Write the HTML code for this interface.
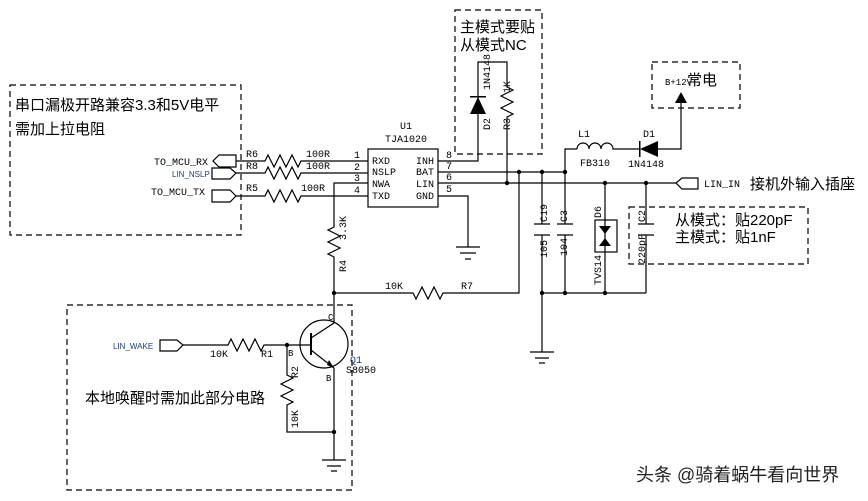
<!DOCTYPE html>
<html><head><meta charset="utf-8"><style>
body{margin:0;background:#fff}
svg{display:block}
text{font-family:"Liberation Mono","Noto Sans CJK SC",monospace;font-size:10px;fill:#000}
.cn{font-family:"Liberation Sans","Noto Sans CJK SC",sans-serif;font-size:15px}
.bl{font-family:"Liberation Sans",sans-serif;font-size:8px;fill:#1a3a8a}
</style></head><body>
<svg width="868" height="501" viewBox="0 0 868 501" xmlns="http://www.w3.org/2000/svg">
<g fill="none" stroke="#000" stroke-width="1.2">
<!-- dashed boxes -->
<g stroke-dasharray="6,4">
<rect x="10" y="85" width="231" height="150"/>
<rect x="455" y="10" width="87" height="144"/>
<rect x="652" y="62" width="88" height="46"/>
<rect x="629" y="207" width="179" height="57"/>
<rect x="67" y="305" width="285" height="185"/>
</g>
<!-- ports -->
<path d="M236 155 H219 L213 161 L219 167 H236 Z"/>
<path d="M212 168 H230 L236 173 L230 179 H212 Z"/>
<path d="M212 190 H230 L236 196 L230 202 H212 Z"/>
<path d="M698 178 H682 L676 183 L682 189 H698 Z"/>
<path d="M160 340 H177 L183 345 L177 351 H160 Z"/>
<!-- left wires + resistors -->
<path d="M236 161 H265 l3 -6 l6 12 l6 -12 l6 12 l6 -12 l6 12 l3 -6 H368"/>
<path d="M236 173 H265 l3 -6 l6 12 l6 -12 l6 12 l6 -12 l6 12 l3 -6 H368"/>
<path d="M236 196 H265 l3 -6 l6 12 l6 -12 l6 12 l6 -12 l6 12 l3 -6 H368"/>
<path d="M368 183 H334 V227 l-6 3 l12 6 l-12 6 l12 6 l-12 6 l6 3 V293 H413 l3 6 l6 -12 l6 12 l6 -12 l6 12 l3 -6 H519 V172"/>
<!-- chip -->
<rect x="368" y="149" width="70" height="58"/>
<path d="M438 161 H478 V62 H507 V87 l6 3 l-12 6 l12 6 l-12 6 l12 6 l-6 3 V183"/>
<path d="M438 172 H565 V149 H577"/>
<path d="M577 149 a6 6 0 0 1 12 0 a6 6 0 0 1 12 0 a6 6 0 0 1 12 0 H640"/>
<path d="M658 149 H681 V100"/>
<path d="M438 183 H676"/>
<path d="M438 196 H468 V247"/>
<path d="M456 247 H480 M460 253 H476 M465 259 H471"/>
<!-- caps -->
<path d="M542 172 V224 M534 224 H550 M534 235 H550 M542 235 V352"/>
<path d="M565 172 V224 M557 224 H573 M557 235 H573 M565 235 V293"/>
<path d="M646 183 V224 M638 224 H654 M638 235 H654 M646 235 V293"/>
<path d="M605 183 V293"/>
<rect x="595" y="220" width="22" height="32"/>
<path d="M542 293 H646"/>
<path d="M530 352 H554 M535 358 H549 M539 363 H545"/>
<!-- transistor section -->
<path d="M183 345 H228 l3 -6 l6 12 l6 -12 l6 12 l6 -12 l6 12 l3 -6 H311"/>
<circle cx="324" cy="344" r="24"/>
<path d="M311 333 V355" stroke-width="2"/>
<path d="M311 338 L334 323 V293 M311 350 L334 368 V460 M287 345 V375 l6 3 l-12 6 l12 6 l-12 6 l12 6 l-6 3 V432 H334"/>
<path d="M322 460 H346 M327 466 H341 M331 471 H337"/>
</g>
<g fill="#000">
<polygon points="327,365 334,368 329,360"/>
<polygon points="470,114 486,114 478,97"/><rect x="470" y="96" width="16" height="1.5"/>
<polygon points="658,141 658,157 640,149"/><rect x="639" y="141" width="1.5" height="16"/>
<polygon points="675,103 687,103 681,92"/>
<polygon points="599,226 611,226 605,234"/><polygon points="599,246 611,246 605,238"/>
<circle cx="334" cy="293" r="2.2"/><circle cx="507" cy="183" r="2.2"/><circle cx="519" cy="172" r="2.2"/>
<circle cx="542" cy="172" r="2.2"/><circle cx="565" cy="172" r="2.2"/><circle cx="605" cy="183" r="2.2"/>
<circle cx="646" cy="183" r="2.2"/><circle cx="542" cy="293" r="2.2"/><circle cx="565" cy="293" r="2.2"/>
<circle cx="605" cy="293" r="2.2"/><circle cx="287" cy="345" r="2.2"/><circle cx="334" cy="432" r="2.2"/>
</g>
<!-- text -->
<text class="cn" x="15" y="110">串口漏极开路兼容3.3和5V电平</text>
<text class="cn" x="15" y="134">需加上拉电阻</text>
<text class="cn" x="460" y="32">主模式要贴</text>
<text class="cn" x="460" y="50">从模式NC</text>
<text class="cn" x="687" y="85">常电</text>
<text x="665" y="85" style="font-size:9px">B+12V</text>
<text class="cn" x="750" y="189">接机外输入插座</text>
<text class="cn" x="675" y="225">从模式：贴220pF</text>
<text class="cn" x="675" y="242">主模式：贴1nF</text>
<text class="cn" x="85" y="403">本地唤醒时需加此部分电路</text>
<text class="cn" x="636" y="481" style="font-size:18px;fill:#222">头条 @骑着蜗牛看向世界</text>
<text x="154" y="165">TO_MCU_RX</text>
<text class="bl" x="172" y="177">LIN_NSLP</text>
<text x="151" y="195">TO_MCU_TX</text>
<text class="bl" x="113" y="349">LIN_WAKE</text>
<text x="704" y="187">LIN_IN</text>
<text x="246" y="157">R6</text><text x="246" y="169">R8</text><text x="246" y="191">R5</text>
<text x="306" y="157">100R</text><text x="306" y="169">100R</text><text x="301" y="191">100R</text>
<text x="354" y="158">1</text><text x="354" y="170">2</text><text x="354" y="181">3</text><text x="354" y="193">4</text>
<text x="372" y="164">RXD</text><text x="372" y="175">NSLP</text><text x="372" y="187">NWA</text><text x="372" y="199">TXD</text>
<text x="416" y="164">INH</text><text x="416" y="175">BAT</text><text x="416" y="187">LIN</text><text x="416" y="199">GND</text>
<text x="446" y="158">8</text><text x="446" y="169">7</text><text x="446" y="180">6</text><text x="446" y="192">5</text>
<text x="400" y="129">U1</text><text x="385" y="142">TJA1020</text>
<text x="385" y="289">10K</text><text x="461" y="289">R7</text>
<text x="578" y="137">L1</text><text x="580" y="166">FB310</text>
<text x="643" y="137">D1</text><text x="628" y="167">1N4148</text>
<text x="210" y="357">10K</text><text x="261" y="357">R1</text>
<text x="288" y="356" style="font-size:9px">B</text><text x="328" y="320" style="font-size:9px">C</text><text x="326" y="381" style="font-size:9px">B</text>
<text x="350" y="363" style="fill:#1a3a8a">Q1</text><text x="346" y="373">S8050</text>
<g transform="rotate(-90)">
<text x="-90" y="490">1N4148</text><text x="-130" y="490">D2</text>
<text x="-93" y="510">1K</text><text x="-130" y="510">R3</text>
<text x="-240" y="346">3.3K</text><text x="-272" y="346">R4</text>
<text x="-222" y="547">C19</text><text x="-258" y="547">105</text>
<text x="-222" y="567">C3</text><text x="-256" y="567">104</text>
<text x="-218" y="601">D6</text><text x="-285" y="601">TVS14</text>
<text x="-222" y="645">C2</text><text x="-264" y="645">220pF</text>
<text x="-378" y="298">R2</text><text x="-428" y="298">10K</text>
</g>
</svg>
</body></html>
